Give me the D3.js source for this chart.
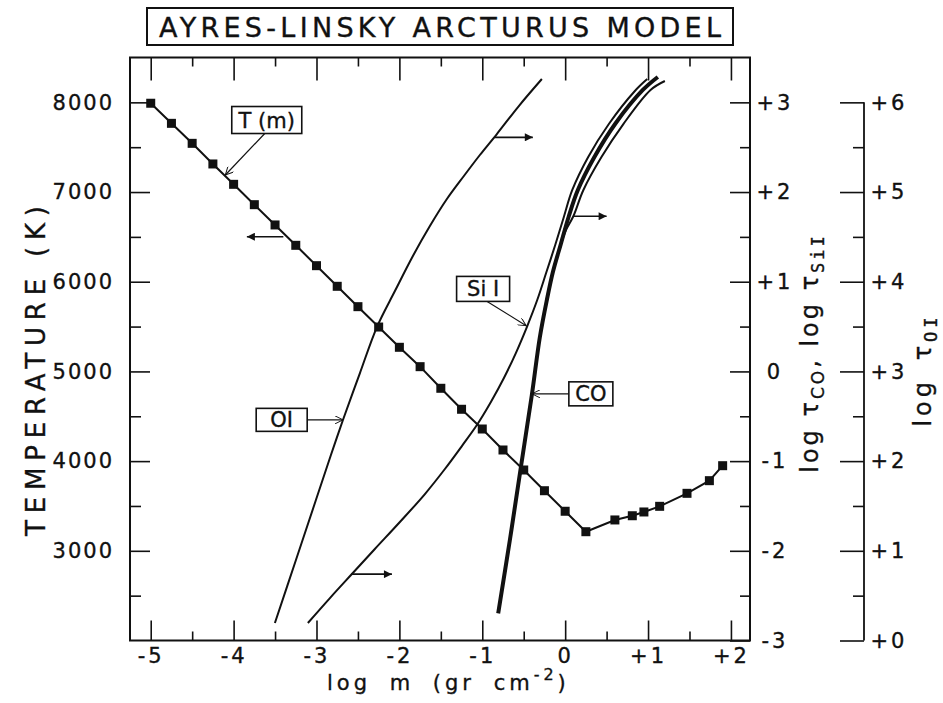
<!DOCTYPE html>
<html><head><meta charset="utf-8">
<script src="https://cdn.jsdelivr.net/npm/d3@7"></script>
<style>
body{margin:0;background:#fff}
text{font-family:"DejaVu Sans",sans-serif;fill:#111;stroke:#111;stroke-width:0.35px}
</style>
</head><body>
<svg id="chart" width="943" height="703"></svg>
<script>
// ---------------- data ----------------
const tLogM = [-5,-4.75,-4.5,-4.25,-4,-3.75,-3.5,-3.25,-3,-2.75,-2.5,-2.25,-2,-1.75,-1.5,-1.25,-1,-0.75,-0.5,-0.25,0,0.25,0.6,0.81,0.95,1.14,1.47,1.74,1.9];
const temperature = [7990,7766,7543,7313,7086,6859,6633,6406,6179,5949,5722,5495,5269,5053,4812,4578,4358,4124,3901,3670,3441,3213,3344,3391,3433,3496,3641,3782,3949];

const oiLogM   = [-3.502,-3.248,-3.007,-2.826,-2.681,-2.476,-2.271,-2.054,-1.837,-1.632,-1.427,-1.222,-1.029,-0.824,-0.559,-0.281];
const oiLogTau = [0.195,0.897,1.566,2.068,2.458,2.982,3.495,3.896,4.287,4.621,4.922,5.179,5.413,5.647,5.959,6.260];

const siLogM   = [-3.104,-2.838,-2.573,-2.296,-1.994,-1.692,-1.451,-1.246,-1.065,-0.896,-0.739,-0.595,-0.462,-0.337,-0.226,-0.120,-0.016,0.086,0.278,0.527,0.841,0.990];
const siLogTau = [-2.805,-2.527,-2.259,-1.980,-1.679,-1.367,-1.088,-0.832,-0.598,-0.341,-0.074,0.205,0.495,0.796,1.108,1.409,1.722,2.023,2.391,2.759,3.127,3.260];

const coLogM   = [-0.808,-0.667,-0.534,-0.402,-0.305,-0.221,-0.148,-0.052,0.045,0.153,0.346,0.611,0.937,1.118];
const coLogTau = [-2.697,-1.880,-1.066,-0.263,0.384,0.796,1.108,1.421,1.733,2.023,2.380,2.770,3.138,3.283];

const co2LogM   = [-0.052,0.010,0.100,0.220,0.438,0.702,1.030,1.203];
const co2LogTau = [1.421,1.577,1.733,2.023,2.390,2.758,3.138,3.238];

const xTickValues = [-5,-4,-3,-2,-1,0,1,2];
const xTickLabels = ["-5","-4","-3","-2","-1","0","+1","+2"];
const tTickValues = [3000,4000,5000,6000,7000,8000];
const tTickLabels = ["3000","4000","5000","6000","7000","8000"];
const coTickValues = [-3,-2,-1,0,1,2,3];
const coTickLabels = ["-3","-2","-1","0","+1","+2","+3"];
const oiTickValues = [0,1,2,3,4,5,6];
const oiTickLabels = ["+0","+1","+2","+3","+4","+5","+6"];

const titleText = "AYRES-LINSKY ARCTURUS MODEL";

// ---------------- layout ----------------
const svg = d3.select("#chart");
const L = 130, R = 750, T = 57.5, B = 640.5;
const x = d3.scaleLinear().domain([-5.25, 2.23]).range([L, R]);
const yT = d3.scaleLinear().domain([2000, 8500]).range([B, T]);
const yCO = d3.scaleLinear().domain([-3, 3.5]).range([B, T]);
const yOI = d3.scaleLinear().domain([0, 6.5]).range([B, T]);
const oiAxisX = 864;

const defs = svg.append("defs");
defs.append("marker").attr("id","fillArrow").attr("viewBox","0 0 10 10")
  .attr("refX",10).attr("refY",5).attr("markerWidth",14).attr("markerHeight",8)
  .attr("markerUnits","userSpaceOnUse").attr("orient","auto")
  .append("path").attr("d","M0,0 L10,5 L0,10 Z").attr("fill","#111");
defs.append("marker").attr("id","openArrow").attr("viewBox","0 0 10 10")
  .attr("refX",10).attr("refY",5).attr("markerWidth",10).attr("markerHeight",8)
  .attr("markerUnits","userSpaceOnUse").attr("orient","auto")
  .append("path").attr("d","M0,0 L10,5 L0,10").attr("fill","none").attr("stroke","#111").attr("stroke-width",1.2);

// title
svg.append("rect").attr("x",147).attr("y",8).attr("width",586).attr("height",37)
  .attr("fill","none").attr("stroke","#111").attr("stroke-width",2);
svg.append("text").attr("x",440).attr("y",37).attr("text-anchor","middle")
  .attr("font-size",27).attr("textLength",562).attr("lengthAdjust","spacing").text(titleText);

// axes
function styleAxis(g){ g.select(".domain").remove(); g.selectAll(".tick line").attr("stroke","#111").attr("stroke-width",1.6); g.selectAll("text").attr("font-size",21).attr("fill","#111").attr("font-family","DejaVu Sans"); }

const halfX = d3.range(-5, 2.01, 0.5).filter(v => Math.abs(v % 1) > 0.1);
svg.append("g").attr("transform",`translate(0,${B})`)
  .call(d3.axisBottom(x).tickValues(xTickValues).tickSize(-20).tickPadding(8).tickFormat((d,i)=>xTickLabels[i]))
  .call(styleAxis).call(g=>g.selectAll("text").attr("letter-spacing",3));
svg.append("g").attr("transform",`translate(0,${B})`)
  .call(d3.axisBottom(x).tickValues(halfX).tickSize(-9).tickFormat(""))
  .call(styleAxis);
svg.append("g").attr("transform",`translate(0,${T})`)
  .call(d3.axisTop(x).tickValues(xTickValues).tickSize(-23).tickFormat(""))
  .call(styleAxis);
svg.append("g").attr("transform",`translate(0,${T})`)
  .call(d3.axisTop(x).tickValues(halfX).tickSize(-9).tickFormat(""))
  .call(styleAxis);

const halfT = d3.range(2500, 8500, 1000);
svg.append("g").attr("transform",`translate(${L},0)`)
  .call(d3.axisLeft(yT).tickValues(tTickValues).tickSize(-20).tickPadding(16).tickFormat((d,i)=>tTickLabels[i]))
  .call(styleAxis).call(g=>g.selectAll("text").attr("letter-spacing",2));
svg.append("g").attr("transform",`translate(${L},0)`)
  .call(d3.axisLeft(yT).tickValues(halfT).tickSize(-11).tickFormat(""))
  .call(styleAxis);

const halfCO = d3.range(-2.5, 3, 1);
svg.append("g").attr("transform",`translate(${R},0)`)
  .call(d3.axisRight(yCO).tickValues(coTickValues).tickSize(-20).tickPadding(0).tickFormat((d,i)=>coTickLabels[i]))
  .call(styleAxis).call(g=>g.selectAll("text").attr("x",25).attr("text-anchor","middle").attr("letter-spacing",3));
svg.append("g").attr("transform",`translate(${R},0)`)
  .call(d3.axisRight(yCO).tickValues(halfCO).tickSize(-10).tickFormat(""))
  .call(styleAxis);

const halfOI = d3.range(0.5, 6, 1);
svg.append("line").attr("x1",oiAxisX).attr("x2",oiAxisX).attr("y1",yOI(0)).attr("y2",yOI(6))
  .attr("stroke","#111").attr("stroke-width",1.8);
svg.append("g").attr("transform",`translate(${oiAxisX},0)`)
  .call(d3.axisRight(yOI).tickValues(oiTickValues).tickSize(-24).tickPadding(0).tickFormat((d,i)=>oiTickLabels[i]))
  .call(styleAxis).call(g=>g.selectAll("text").attr("x",25).attr("text-anchor","middle").attr("letter-spacing",3));
svg.append("g").attr("transform",`translate(${oiAxisX},0)`)
  .call(d3.axisRight(yOI).tickValues(halfOI).tickSize(-11).tickFormat(""))
  .call(styleAxis);

// frame
svg.append("rect").attr("x",L).attr("y",T).attr("width",R-L).attr("height",B-T)
  .attr("fill","none").attr("stroke","#111").attr("stroke-width",2);

// axis titles
svg.append("text").attr("transform","translate(45,371) rotate(-90)").attr("text-anchor","middle")
  .attr("font-size",26).attr("textLength",330).attr("lengthAdjust","spacing").text("TEMPERATURE (K)");

const xl = svg.append("text").attr("x",327).attr("y",690).attr("text-anchor","start")
  .attr("font-size",21).attr("letter-spacing",4).attr("word-spacing",8);
xl.append("tspan").text("log m (gr cm");
xl.append("tspan").attr("font-size",16).attr("dy",-10).text("-2");
xl.append("tspan").attr("dy",10).text(")");

const r1 = svg.append("text").attr("transform","translate(818,353) rotate(-90)").attr("text-anchor","middle")
  .attr("font-size",24).attr("letter-spacing",3);
r1.append("tspan").text("log \u03C4");
r1.append("tspan").attr("font-size",17).attr("dy",6).text("CO");
r1.append("tspan").attr("dy",-6).text(", log \u03C4");
r1.append("tspan").attr("font-size",17).attr("dy",6).attr("font-family","DejaVu Sans Mono").text("SiI");

const r2 = svg.append("text").attr("transform","translate(931,370) rotate(-90)").attr("text-anchor","middle")
  .attr("font-size",24).attr("letter-spacing",4).attr("word-spacing",6);
r2.append("tspan").text("log \u03C4");
r2.append("tspan").attr("font-size",17).attr("dy",6).attr("font-family","DejaVu Sans Mono").text("OI");

// ---------------- curves ----------------
const zip = (a,b) => a.map((v,i)=>[v,b[i]]);
const smooth = (ys) => d3.line().x(d=>x(d[0])).y(d=>ys(d[1])).curve(d3.curveCatmullRom.alpha(0.5));

svg.append("path").attr("d", smooth(yOI)(zip(oiLogM, oiLogTau)))
  .attr("fill","none").attr("stroke","#111").attr("stroke-width",2);
svg.append("path").attr("d", smooth(yCO)(zip(siLogM, siLogTau)))
  .attr("fill","none").attr("stroke","#111").attr("stroke-width",2);
svg.append("path").attr("d", smooth(yCO)(zip(co2LogM, co2LogTau)))
  .attr("fill","none").attr("stroke","#111").attr("stroke-width",2);
svg.append("path").attr("d", smooth(yCO)(zip(coLogM, coLogTau)))
  .attr("fill","none").attr("stroke","#111").attr("stroke-width",4);

const tData = zip(tLogM, temperature);
svg.append("path").attr("d", d3.line().x(d=>x(d[0])).y(d=>yT(d[1]))(tData))
  .attr("fill","none").attr("stroke","#111").attr("stroke-width",2);
svg.selectAll("rect.pt").data(tData).join("rect").attr("class","pt")
  .attr("x",d=>x(d[0])-4.5).attr("y",d=>yT(d[1])-4.5).attr("width",9).attr("height",9).attr("fill","#111");

// ---------------- annotations ----------------
function dirArrow(x0,x1,yv,ys){
  svg.append("line").attr("x1",x(x0)).attr("x2",x(x1)).attr("y1",ys(yv)).attr("y2",ys(yv))
    .attr("stroke","#111").attr("stroke-width",1.6).attr("marker-end","url(#fillArrow)");
}
dirArrow(-3.40,-3.84,6502,yT);
dirArrow(-0.85,-0.39,5.61,yOI);
dirArrow(0.10,0.50,1.73,yCO);
dirArrow(-2.58,-2.09,-2.26,yCO);

function boxLabel(cx,cy,w,h,label,font,lx0,ly0,lx1,ly1){
  svg.append("line").attr("x1",lx0).attr("y1",ly0).attr("x2",lx1).attr("y2",ly1)
    .attr("stroke","#111").attr("stroke-width",1.2).attr("marker-end","url(#openArrow)");
  svg.append("rect").attr("x",cx-w/2).attr("y",cy-h/2).attr("width",w).attr("height",h)
    .attr("fill","#fff").attr("stroke","#111").attr("stroke-width",1.6);
  svg.append("text").attr("x",cx).attr("y",cy).attr("dy","0.36em").attr("text-anchor","middle")
    .attr("font-size",21).attr("font-family",font).text(label);
}
{ const cx=x(-3.60), cy=yT(7803);
  boxLabel(cx,cy,70,27,"T (m)","DejaVu Sans",cx-2,cy+13.5,x(-4.10),yT(7190)); }
{ const cx=x(-3.42), cy=yOI(2.46);
  boxLabel(cx,cy,51,23,"OI","DejaVu Sans Mono",cx+25.5,cy,x(-2.68),yOI(2.46)); }
{ const cx=x(-0.99), cy=yCO(0.92);
  boxLabel(cx,cy,53,25,"Si I","DejaVu Sans Mono",cx+4,cy+12.5,x(-0.47),yCO(0.51)); }
{ const cx=x(0.31), cy=yCO(-0.25);
  boxLabel(cx,cy,44,24,"CO","DejaVu Sans",cx-22,cy,x(-0.40),yCO(-0.25)); }
</script>
</body></html>
